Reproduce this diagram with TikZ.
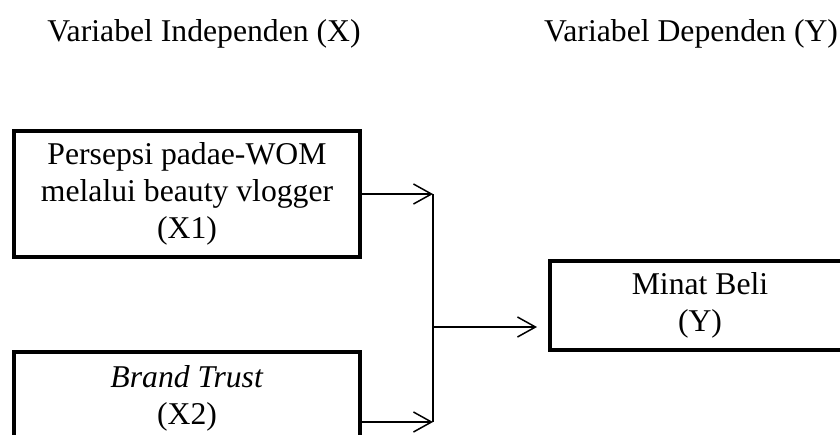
\documentclass[tikz,border=0pt]{standalone}
\usepackage{fontspec}
\setmainfont{Liberation Serif}
\usetikzlibrary{arrows.meta}
\begin{document}
\begin{tikzpicture}[x=1pt,y=-1pt,
  every node/.style={font=\fontsize{31.7}{37}\selectfont},
  varbox/.style={draw,line width=4pt,align=center,inner sep=0pt},
  title/.style={anchor=base,inner sep=0pt},
  arr/.style={line width=1.5pt,-{Straight Barb[length=18pt,width=20pt,line width=1.5pt]}},
  link/.style={line width=1.5pt}]
\useasboundingbox (0,0) rectangle (840,434);
\clip (0,0) rectangle (840,434);
\node[title] (tx) at (204,41) {Variabel Independen (X)};
\node[title] (ty) at (691,41) {Variabel Dependen (Y)};
\node[varbox,minimum width=346pt,minimum height=126pt] (x1) at (187,194)
  {Persepsi padae-WOM\\melalui beauty vlogger\\(X1)};
\node[varbox,minimum width=346pt,minimum height=92pt] (x2) at (187,398)
  {\textit{Brand Trust}\\(X2)};
\node[varbox,minimum width=300pt,minimum height=89pt] (y) at (700,305.5)
  {Minat Beli\\(Y)};
\coordinate (j1) at (433,194);
\coordinate (j2) at (433,422);
\coordinate (jm) at (433,327);
\draw[arr] (x1.east |- j1) -- (j1);
\draw[arr] (x2.east |- j2) -- (j2);
\draw[link] (j1) -- (j2);
\draw[arr,shorten >=11pt] (jm) -- (jm -| y.west);
\end{tikzpicture}
\end{document}
